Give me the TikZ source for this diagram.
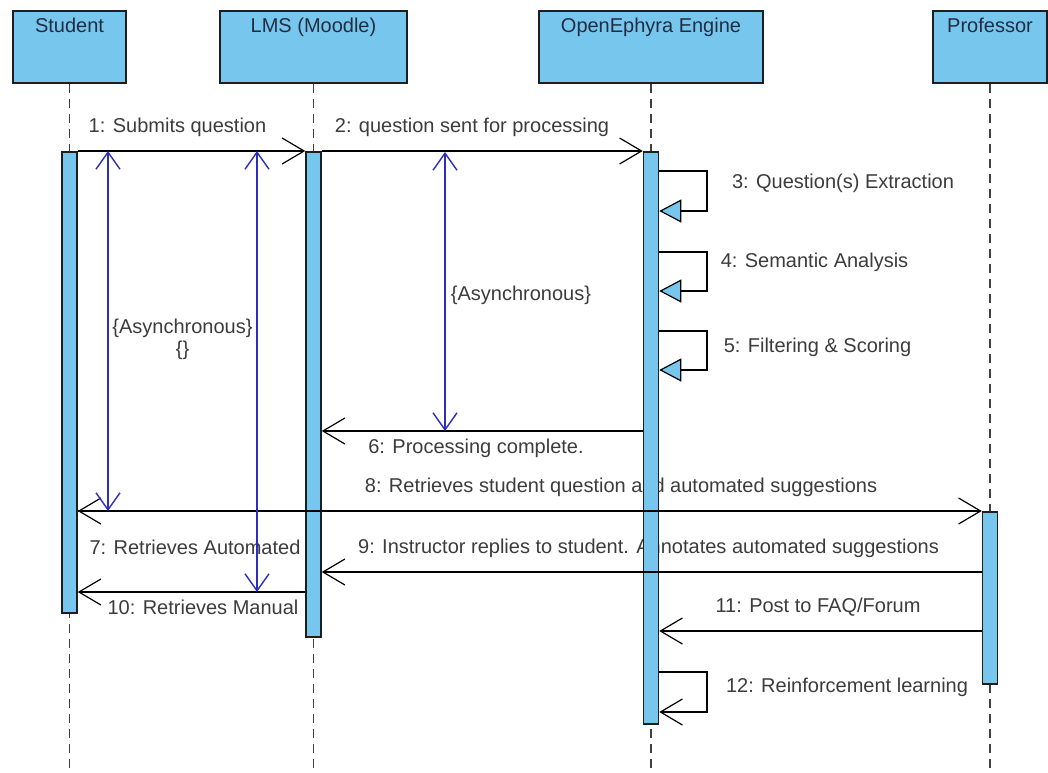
\documentclass[tikz,border=0pt]{standalone}
\usepackage{fontspec}
\setmainfont{Liberation Sans}
\usetikzlibrary{arrows.meta}
\definecolor{boxblue}{RGB}{118,198,238}
\definecolor{asyncblue}{RGB}{45,45,190}
\definecolor{txtgray}{RGB}{60,60,60}
\definecolor{hdrtxt}{RGB}{35,45,65}
\definecolor{edgecol}{RGB}{30,30,30}
\begin{document}
\begin{tikzpicture}[x=0.5pt,y=-0.5pt,
  hdr/.style={draw=edgecol, line width=1pt, fill=boxblue, minimum height=36pt, inner sep=0pt, anchor=north west},
  hdrtext/.style={text=hdrtxt, font=\fontsize{10}{12}\selectfont, anchor=north, yshift=-0.5pt},
  life/.style={draw=edgecol!85, line width=0.8pt, dash pattern=on 4.5pt off 3pt},
  actbar/.style={draw=edgecol, line width=0.75pt, fill=boxblue, minimum width=7.5pt, inner sep=0pt, anchor=north},
  msg/.style={draw=black, line width=0.6pt, -{Straight Barb[length=11pt,width=13pt,line width=0.6pt]}},
  selfmsg/.style={draw=black, line width=0.6pt, -{Triangle[length=11pt,width=11.5pt,fill=boxblue,line width=0.6pt]}},
  asyncarr/.style={draw=asyncblue, line width=0.7pt, {Straight Barb[length=8.5pt,width=12pt]}-{Straight Barb[length=8.5pt,width=12pt]}},
  lbl/.style={text=txtgray, font=\fontsize{10}{11}\selectfont, inner sep=0pt, align=center},
]
\useasboundingbox (0,0) rectangle (1048,772);
\fill[white] (0,0) rectangle (1048,772);

% headers
\node[hdr, minimum width=56.5pt, label={[hdrtext]north:Student}] (student) at (12,10) {};
\node[hdr, minimum width=93.5pt, label={[hdrtext]north:LMS (Moodle)}] (lms) at (219,10) {};
\node[hdr, minimum width=112pt, label={[hdrtext]north:OpenEphyra Engine}] (oe) at (538,10) {};
\node[hdr, minimum width=57pt, label={[hdrtext]north:Professor}] (prof) at (932,10) {};

% y levels
\coordinate (bottom) at (0,772);
\coordinate (y1) at (0,151);
\coordinate (y6) at (0,431);
\coordinate (y8) at (0,511);
\coordinate (y9) at (0,572);
\coordinate (y10) at (0,592);
\coordinate (y11) at (0,631);

% lifelines
\draw[life] (student.south) -- (student.south |- bottom);
\draw[life] (lms.south) -- (lms.south |- bottom);
\draw[life] (oe.south) -- (oe.south |- bottom);
\draw[life] (prof.south) -- (prof.south |- bottom);

% labels
\node[lbl] (l1) at (177.5,127) {1: Submits question};
\node[lbl] (l2) at (472,127) {2: question sent for processing};
\node[lbl] (l3) at (843,183) {3: Question(s) Extraction};
\node[lbl] (l4) at (814.5,262) {4: Semantic Analysis};
\node[lbl] (l5) at (817.5,347) {5: Filtering \& Scoring};
\node[lbl] (l6) at (476,448) {6: Processing complete.};
\node[lbl] (l8) at (621,487) {8: Retrieves student question and automated suggestions};
\node[lbl] (l7) at (195,547) {7: Retrieves Automated};
\node[lbl] (l9) at (648.5,548) {9: Instructor replies to student. Annotates automated suggestions};
\node[lbl] (l10) at (203,607) {10: Retrieves Manual};
\node[lbl] (l11) at (818,607) {11: Post to FAQ/Forum};
\node[lbl] (l12) at (847,687) {12: Reinforcement learning};
\node[lbl] (as1) at (182.5,339) {\{Asynchronous\}\\\{\}};
\node[lbl] (as3) at (521,295) {\{Asynchronous\}};

% activation bars
\node[actbar, minimum height=230.5pt] (sact) at (student.south |- y1) {};
\node[actbar, minimum height=242.5pt] (lact) at (lms.south |- y1) {};
\node[actbar, minimum height=286pt] (oact) at (oe.south |- y1) {};
\node[actbar, minimum height=86pt] (pact) at (prof.south |- y8) {};

% messages
\draw[msg] (sact.east |- y1) -- (lact.west |- y1);
\draw[msg] (lact.east |- y1) -- (oact.west |- y1);

\coordinate (m3t) at (707,171); \coordinate (m3b) at (707,211);
\coordinate (m4t) at (707,252); \coordinate (m4b) at (707,291);
\coordinate (m5t) at (707,331); \coordinate (m5b) at (707,370);
\coordinate (m12t) at (707,672); \coordinate (m12b) at (707,712);
\draw[selfmsg] (oact.east |- m3t) -- (m3t) -- (m3b) -- (oact.east |- m3b);
\draw[selfmsg] (oact.east |- m4t) -- (m4t) -- (m4b) -- (oact.east |- m4b);
\draw[selfmsg] (oact.east |- m5t) -- (m5t) -- (m5b) -- (oact.east |- m5b);

\draw[msg] (oact.west |- y6) -- (lact.east |- y6);
\draw[msg] (lact.west |- y8) -- (sact.east |- y8);
\draw[msg] (sact.east |- y8) -- (pact.west |- y8);
\draw[msg] (pact.west |- y9) -- (lact.east |- y9);
\draw[msg] (lact.west |- y10) -- (sact.east |- y10);
\draw[msg] (pact.west |- y11) -- (oact.east |- y11);
\draw[msg] (oact.east |- m12t) -- (m12t) -- (m12b) -- (oact.east |- m12b);

% asynchronous constraints
\coordinate (a1t) at (108,151); \coordinate (a1b) at (108,511);
\coordinate (a2t) at (257,151); \coordinate (a2b) at (257,592);
\coordinate (a3t) at (445,152); \coordinate (a3b) at (445,431);
\draw[asyncarr] (a1t) -- (a1b);
\draw[asyncarr] (a2t) -- (a2b);
\draw[asyncarr] (a3t) -- (a3b);
\end{tikzpicture}
\end{document}
